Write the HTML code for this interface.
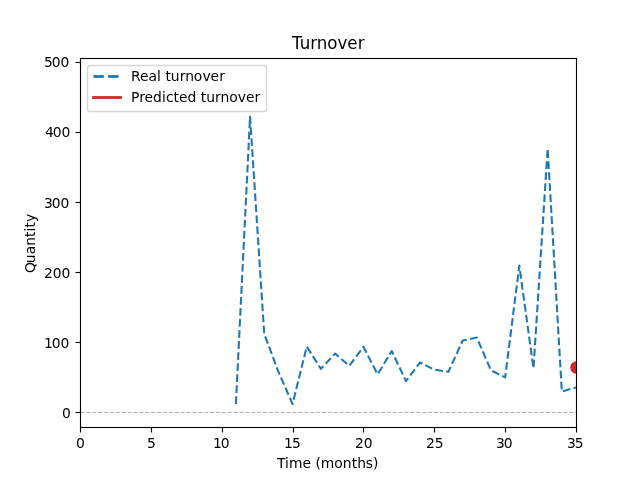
<!DOCTYPE html>
<html lang="en">
<head>
<meta charset="utf-8">
<title>Turnover</title>
<style>
html, body { margin: 0; padding: 0; background: #ffffff; }
body { width: 640px; height: 480px; overflow: hidden; }
svg { display: block; }
text { font-family: "DejaVu Sans", "Liberation Sans", sans-serif; fill: #000000; }
.tick { font-size: 13.889px; }
.label { font-size: 13.889px; }
.title { font-size: 18px; }
</style>
</head>
<body>
<svg width="640" height="480" viewBox="0 0 640 480" role="img" aria-label="Turnover chart">
<defs><clipPath id="ax"><rect x="80" y="57.6" width="496" height="369.6"/></clipPath></defs>
<rect x="0" y="0" width="640" height="480" fill="#ffffff"/>
<g clip-path="url(#ax)">
<polyline points="235.886,404.008 250.057,116.736 264.229,333.942 278.400,371.778 292.571,404.008 306.743,346.554 320.914,368.905 335.086,353.560 349.257,365.822 363.429,346.904 377.600,374.300 391.771,351.038 405.943,381.026 420.114,362.459 434.286,369.676 448.457,371.778 462.629,340.528 476.800,337.585 490.971,370.376 505.143,377.383 519.314,265.627 533.486,368.414 547.657,148.546 561.829,391.536 576.000,387.472" fill="none" stroke="#1f77b4" stroke-width="2.0833" stroke-dasharray="7.7083 3.3333" stroke-linejoin="round" stroke-linecap="butt"/>
<circle cx="576.5" cy="367.5" r="6.25" fill="#d62728"/>
<rect x="80.50" y="411.944" width="4.11" height="1.1111" fill="#808080" fill-opacity="0.6"/>
<rect x="86.39" y="411.944" width="4.11" height="1.1111" fill="#808080" fill-opacity="0.6"/>
<rect x="92.28" y="411.944" width="4.11" height="1.1111" fill="#808080" fill-opacity="0.6"/>
<rect x="98.17" y="411.944" width="4.11" height="1.1111" fill="#808080" fill-opacity="0.6"/>
<rect x="104.06" y="411.944" width="4.11" height="1.1111" fill="#808080" fill-opacity="0.6"/>
<rect x="109.94" y="411.944" width="4.11" height="1.1111" fill="#808080" fill-opacity="0.6"/>
<rect x="115.83" y="411.944" width="4.11" height="1.1111" fill="#808080" fill-opacity="0.6"/>
<rect x="121.72" y="411.944" width="4.11" height="1.1111" fill="#808080" fill-opacity="0.6"/>
<rect x="127.61" y="411.944" width="4.11" height="1.1111" fill="#808080" fill-opacity="0.6"/>
<rect x="133.50" y="411.944" width="4.11" height="1.1111" fill="#808080" fill-opacity="0.6"/>
<rect x="139.39" y="411.944" width="4.11" height="1.1111" fill="#808080" fill-opacity="0.6"/>
<rect x="145.28" y="411.944" width="4.11" height="1.1111" fill="#808080" fill-opacity="0.6"/>
<rect x="151.17" y="411.944" width="4.11" height="1.1111" fill="#808080" fill-opacity="0.6"/>
<rect x="157.06" y="411.944" width="4.11" height="1.1111" fill="#808080" fill-opacity="0.6"/>
<rect x="162.94" y="411.944" width="4.11" height="1.1111" fill="#808080" fill-opacity="0.6"/>
<rect x="168.83" y="411.944" width="4.11" height="1.1111" fill="#808080" fill-opacity="0.6"/>
<rect x="174.72" y="411.944" width="4.11" height="1.1111" fill="#808080" fill-opacity="0.6"/>
<rect x="180.61" y="411.944" width="4.11" height="1.1111" fill="#808080" fill-opacity="0.6"/>
<rect x="186.50" y="411.944" width="4.11" height="1.1111" fill="#808080" fill-opacity="0.6"/>
<rect x="192.39" y="411.944" width="4.11" height="1.1111" fill="#808080" fill-opacity="0.6"/>
<rect x="198.28" y="411.944" width="4.11" height="1.1111" fill="#808080" fill-opacity="0.6"/>
<rect x="204.17" y="411.944" width="4.11" height="1.1111" fill="#808080" fill-opacity="0.6"/>
<rect x="210.06" y="411.944" width="4.11" height="1.1111" fill="#808080" fill-opacity="0.6"/>
<rect x="215.94" y="411.944" width="4.11" height="1.1111" fill="#808080" fill-opacity="0.6"/>
<rect x="221.83" y="411.944" width="4.11" height="1.1111" fill="#808080" fill-opacity="0.6"/>
<rect x="227.72" y="411.944" width="4.11" height="1.1111" fill="#808080" fill-opacity="0.6"/>
<rect x="233.61" y="411.944" width="4.11" height="1.1111" fill="#808080" fill-opacity="0.6"/>
<rect x="239.50" y="411.944" width="4.11" height="1.1111" fill="#808080" fill-opacity="0.6"/>
<rect x="245.39" y="411.944" width="4.11" height="1.1111" fill="#808080" fill-opacity="0.6"/>
<rect x="251.28" y="411.944" width="4.11" height="1.1111" fill="#808080" fill-opacity="0.6"/>
<rect x="257.17" y="411.944" width="4.11" height="1.1111" fill="#808080" fill-opacity="0.6"/>
<rect x="263.06" y="411.944" width="4.11" height="1.1111" fill="#808080" fill-opacity="0.6"/>
<rect x="268.94" y="411.944" width="4.11" height="1.1111" fill="#808080" fill-opacity="0.6"/>
<rect x="274.83" y="411.944" width="4.11" height="1.1111" fill="#808080" fill-opacity="0.6"/>
<rect x="280.72" y="411.944" width="4.11" height="1.1111" fill="#808080" fill-opacity="0.6"/>
<rect x="286.61" y="411.944" width="4.11" height="1.1111" fill="#808080" fill-opacity="0.6"/>
<rect x="292.50" y="411.944" width="4.11" height="1.1111" fill="#808080" fill-opacity="0.6"/>
<rect x="298.39" y="411.944" width="4.11" height="1.1111" fill="#808080" fill-opacity="0.6"/>
<rect x="304.28" y="411.944" width="4.11" height="1.1111" fill="#808080" fill-opacity="0.6"/>
<rect x="310.17" y="411.944" width="4.11" height="1.1111" fill="#808080" fill-opacity="0.6"/>
<rect x="316.06" y="411.944" width="4.11" height="1.1111" fill="#808080" fill-opacity="0.6"/>
<rect x="321.94" y="411.944" width="4.11" height="1.1111" fill="#808080" fill-opacity="0.6"/>
<rect x="327.83" y="411.944" width="4.11" height="1.1111" fill="#808080" fill-opacity="0.6"/>
<rect x="333.72" y="411.944" width="4.11" height="1.1111" fill="#808080" fill-opacity="0.6"/>
<rect x="339.61" y="411.944" width="4.11" height="1.1111" fill="#808080" fill-opacity="0.6"/>
<rect x="345.50" y="411.944" width="4.11" height="1.1111" fill="#808080" fill-opacity="0.6"/>
<rect x="351.39" y="411.944" width="4.11" height="1.1111" fill="#808080" fill-opacity="0.6"/>
<rect x="357.28" y="411.944" width="4.11" height="1.1111" fill="#808080" fill-opacity="0.6"/>
<rect x="363.17" y="411.944" width="4.11" height="1.1111" fill="#808080" fill-opacity="0.6"/>
<rect x="369.06" y="411.944" width="4.11" height="1.1111" fill="#808080" fill-opacity="0.6"/>
<rect x="374.94" y="411.944" width="4.11" height="1.1111" fill="#808080" fill-opacity="0.6"/>
<rect x="380.83" y="411.944" width="4.11" height="1.1111" fill="#808080" fill-opacity="0.6"/>
<rect x="386.72" y="411.944" width="4.11" height="1.1111" fill="#808080" fill-opacity="0.6"/>
<rect x="392.61" y="411.944" width="4.11" height="1.1111" fill="#808080" fill-opacity="0.6"/>
<rect x="398.50" y="411.944" width="4.11" height="1.1111" fill="#808080" fill-opacity="0.6"/>
<rect x="404.39" y="411.944" width="4.11" height="1.1111" fill="#808080" fill-opacity="0.6"/>
<rect x="410.28" y="411.944" width="4.11" height="1.1111" fill="#808080" fill-opacity="0.6"/>
<rect x="416.17" y="411.944" width="4.11" height="1.1111" fill="#808080" fill-opacity="0.6"/>
<rect x="422.06" y="411.944" width="4.11" height="1.1111" fill="#808080" fill-opacity="0.6"/>
<rect x="427.95" y="411.944" width="4.11" height="1.1111" fill="#808080" fill-opacity="0.6"/>
<rect x="433.83" y="411.944" width="4.11" height="1.1111" fill="#808080" fill-opacity="0.6"/>
<rect x="439.72" y="411.944" width="4.11" height="1.1111" fill="#808080" fill-opacity="0.6"/>
<rect x="445.61" y="411.944" width="4.11" height="1.1111" fill="#808080" fill-opacity="0.6"/>
<rect x="451.50" y="411.944" width="4.11" height="1.1111" fill="#808080" fill-opacity="0.6"/>
<rect x="457.39" y="411.944" width="4.11" height="1.1111" fill="#808080" fill-opacity="0.6"/>
<rect x="463.28" y="411.944" width="4.11" height="1.1111" fill="#808080" fill-opacity="0.6"/>
<rect x="469.17" y="411.944" width="4.11" height="1.1111" fill="#808080" fill-opacity="0.6"/>
<rect x="475.06" y="411.944" width="4.11" height="1.1111" fill="#808080" fill-opacity="0.6"/>
<rect x="480.95" y="411.944" width="4.11" height="1.1111" fill="#808080" fill-opacity="0.6"/>
<rect x="486.83" y="411.944" width="4.11" height="1.1111" fill="#808080" fill-opacity="0.6"/>
<rect x="492.72" y="411.944" width="4.11" height="1.1111" fill="#808080" fill-opacity="0.6"/>
<rect x="498.61" y="411.944" width="4.11" height="1.1111" fill="#808080" fill-opacity="0.6"/>
<rect x="504.50" y="411.944" width="4.11" height="1.1111" fill="#808080" fill-opacity="0.6"/>
<rect x="510.39" y="411.944" width="4.11" height="1.1111" fill="#808080" fill-opacity="0.6"/>
<rect x="516.28" y="411.944" width="4.11" height="1.1111" fill="#808080" fill-opacity="0.6"/>
<rect x="522.17" y="411.944" width="4.11" height="1.1111" fill="#808080" fill-opacity="0.6"/>
<rect x="528.06" y="411.944" width="4.11" height="1.1111" fill="#808080" fill-opacity="0.6"/>
<rect x="533.95" y="411.944" width="4.11" height="1.1111" fill="#808080" fill-opacity="0.6"/>
<rect x="539.83" y="411.944" width="4.11" height="1.1111" fill="#808080" fill-opacity="0.6"/>
<rect x="545.72" y="411.944" width="4.11" height="1.1111" fill="#808080" fill-opacity="0.6"/>
<rect x="551.61" y="411.944" width="4.11" height="1.1111" fill="#808080" fill-opacity="0.6"/>
<rect x="557.50" y="411.944" width="4.11" height="1.1111" fill="#808080" fill-opacity="0.6"/>
<rect x="563.39" y="411.944" width="4.11" height="1.1111" fill="#808080" fill-opacity="0.6"/>
<rect x="569.28" y="411.944" width="4.11" height="1.1111" fill="#808080" fill-opacity="0.6"/>
<rect x="575.17" y="411.944" width="1.33" height="1.1111" fill="#808080" fill-opacity="0.6"/>
</g>
<rect x="79.944" y="427.500" width="1.1111" height="5.000" fill="#000000"/>
<text class="tick" x="76" y="448">0</text>
<rect x="150.944" y="427.500" width="1.1111" height="5.000" fill="#000000"/>
<text class="tick" x="147" y="448">5</text>
<rect x="221.944" y="427.500" width="1.1111" height="5.000" fill="#000000"/>
<text class="tick" x="212.875 220.625" y="448">10</text>
<rect x="292.944" y="427.500" width="1.1111" height="5.000" fill="#000000"/>
<text class="tick" x="284 291.875" y="448">15</text>
<rect x="362.944" y="427.500" width="1.1111" height="5.000" fill="#000000"/>
<text class="tick" x="355 363.75" y="448">20</text>
<rect x="433.944" y="427.500" width="1.1111" height="5.000" fill="#000000"/>
<text class="tick" x="426 434.75" y="448">25</text>
<rect x="504.944" y="427.500" width="1.1111" height="5.000" fill="#000000"/>
<text class="tick" x="495.875 503.75" y="448">30</text>
<rect x="575.944" y="427.500" width="1.1111" height="5.000" fill="#000000"/>
<text class="tick" x="566.875 574.75" y="448">35</text>
<rect x="75.500" y="411.944" width="5.000" height="1.1111" fill="#000000"/>
<text class="tick" x="62" y="418">0</text>
<rect x="75.500" y="341.944" width="5.000" height="1.1111" fill="#000000"/>
<text class="tick" x="43.875 51.75 60.375" y="348">100</text>
<rect x="75.500" y="271.944" width="5.000" height="1.1111" fill="#000000"/>
<text class="tick" x="44 52.75 61.375" y="278">200</text>
<rect x="75.500" y="201.944" width="5.000" height="1.1111" fill="#000000"/>
<text class="tick" x="43.875 51.75 60.375" y="208">300</text>
<rect x="75.500" y="131.944" width="5.000" height="1.1111" fill="#000000"/>
<text class="tick" x="44.875 52.75 61.375" y="137">400</text>
<rect x="75.500" y="61.944" width="5.000" height="1.1111" fill="#000000"/>
<text class="tick" x="43.875 51.75 60.375" y="67">500</text>
<rect x="79.944" y="57.944" width="1.1111" height="370.112" fill="#000000"/>
<rect x="575.944" y="57.944" width="1.1111" height="370.112" fill="#000000"/>
<rect x="79.944" y="426.944" width="497.112" height="1.1111" fill="#000000"/>
<rect x="79.944" y="57.944" width="497.112" height="1.1111" fill="#000000"/>
<text class="title" transform="translate(292 49) scale(0.92594 1)" x="0 8.25 19.625 26.75 38.125 49.125 59.75 71" y="0">Turnover</text>
<text class="label" x="277 285 288.875 302.375 311 315.375 320.75 334.25 342.75 351.625 357.125 365.75 373" y="468">Time (months)</text>
<text class="label" transform="translate(35 273.5) rotate(-90)" x="0.5 10.25 19.25 27.75 36.5 42 46 51.5" y="0">Quantity</text>
<rect x="87.5" y="65.5" width="179" height="46" rx="2.78" ry="2.78" fill="#ffffff" fill-opacity="0.8" stroke="#cccccc" stroke-opacity="0.8" stroke-width="1.389"/>
<rect x="93.5" y="75.111" width="10.278" height="2.778" fill="#1f77b4"/>
<rect x="108.222" y="75.111" width="10.278" height="2.778" fill="#1f77b4"/>
<rect x="92.111" y="96.111" width="29.778" height="2.778" fill="#d62728"/>
<text class="label" x="130.875 139.875 148.5 157 160.75 165.375 170.625 179.625 185.125 193.75 202.375 210.375 219.125" y="81">Real turnover</text>
<text class="label" x="130.875 139.25 144.375 152.875 162 165.875 173.5 178.875 187.5 196.25 200.625 206.125 214.875 220.375 229.125 237.625 245.875 254.375" y="102">Predicted turnover</text>
</svg>
</body>
</html>
